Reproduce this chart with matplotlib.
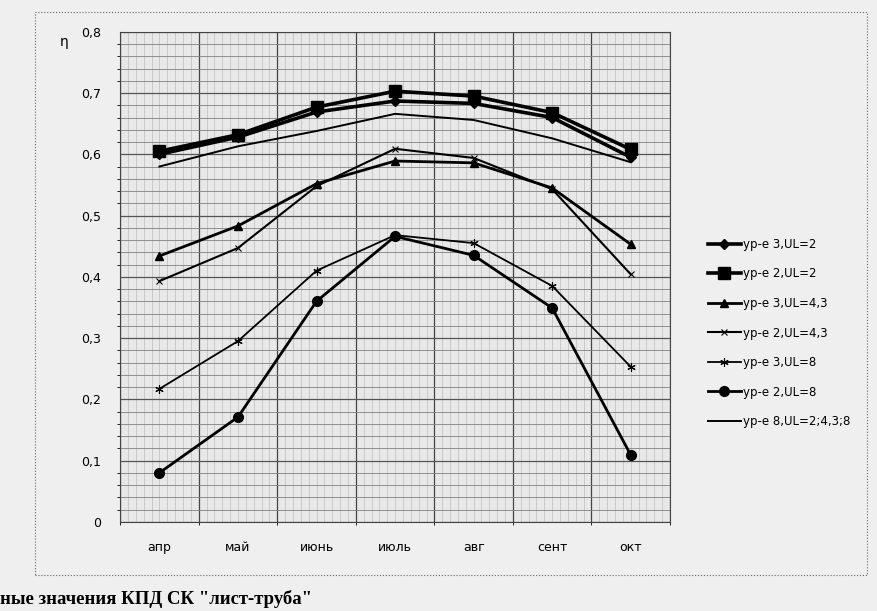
import matplotlib.pyplot as plt
import numpy as np
from matplotlib.patches import Rectangle
from matplotlib.ticker import FuncFormatter, MultipleLocator

plt.rcParams['font.family'] = ['DejaVu Sans']

months = ['апр', 'май', 'июнь', 'июль', 'авг', 'сент', 'окт']

eq3_ul2 = [0.600, 0.628, 0.669, 0.687, 0.683, 0.660, 0.595]
eq2_ul2 = [0.605, 0.632, 0.677, 0.703, 0.695, 0.668, 0.608]
eq3_ul43 = [0.434, 0.483, 0.552, 0.589, 0.586, 0.545, 0.453]
eq2_ul43 = [0.393, 0.447, 0.548, 0.609, 0.594, 0.543, 0.404]
eq3_ul8 = [0.217, 0.295, 0.410, 0.468, 0.455, 0.385, 0.253]
eq2_ul8 = [0.080, 0.171, 0.360, 0.466, 0.435, 0.349, 0.109]
eq8_all = [0.580, 0.613, 0.638, 0.666, 0.656, 0.626, 0.587]

labels = ['ур-е 3,UL=2', 'ур-е 2,UL=2', 'ур-е 3,UL=4,3', 'ур-е 2,UL=4,3',
          'ур-е 3,UL=8', 'ур-е 2,UL=8', 'ур-е 8,UL=2;4,3;8']

fig = plt.figure(figsize=(8.77, 6.11), dpi=100, facecolor='#efefef')
ax = fig.add_axes([0.137, 0.146, 0.627, 0.802], facecolor='#e8e8e8')

x = np.arange(len(months))

ax.plot(x, eq3_ul2, color='black', lw=2.6, marker='D', ms=5, label=labels[0], zorder=4)
ax.plot(x, eq2_ul2, color='black', lw=2.6, marker='s', ms=8, label=labels[1], zorder=4)
ax.plot(x, eq3_ul43, color='black', lw=2.0, marker='^', ms=6, label=labels[2], zorder=4)
ax.plot(x, eq2_ul43, color='black', lw=1.5, marker='x', ms=5, mew=0.8, label=labels[3], zorder=4)
ax.plot(x, eq3_ul8, color='black', lw=1.3, marker=(6, 2, 0), ms=6, mew=0.8, label=labels[4], zorder=4)
ax.plot(x, eq2_ul8, color='black', lw=2.0, marker='o', ms=7, label=labels[5], zorder=4)
ax.plot(x, eq8_all, color='black', lw=1.4, label=labels[6], zorder=4)

ax.set_xlim(-0.5, len(months) - 0.5)
ax.set_ylim(0, 0.8)
ax.set_xticks(x)
ax.set_xticklabels(months, fontsize=8.5)
ax.yaxis.set_major_locator(MultipleLocator(0.1))
ax.yaxis.set_major_formatter(FuncFormatter(lambda v, p: '0' if v == 0 else f'{v:.1f}'.replace('.', ',')))
ax.tick_params(axis='both', length=0, labelsize=9, pad=14)

# dense scanned-looking grid
ax.set_xticks(np.arange(-0.5, len(months), 1.0), minor=True)
ax.yaxis.set_minor_locator(MultipleLocator(0.02))
ax.grid(which='major', axis='y', color='#555555', lw=0.9)
ax.grid(which='minor', axis='y', color='#808080', lw=0.6)
ax.grid(which='minor', axis='x', color='#444444', lw=0.9)
for xv in np.arange(-0.5, len(months), 0.1):
    ax.axvline(xv, color='#bcbcbc', lw=0.5, zorder=0)
for s in ax.spines.values():
    s.set_color('#444444')
    s.set_linewidth(0.8)

fig.text(0.068, 0.925, 'η', fontsize=10)

fig.legend(loc='upper left', bbox_to_anchor=(0.795, 0.628), frameon=False,
           fontsize=8.5, labelspacing=1.4, handlelength=2.8, handletextpad=0.2)

fig.patches.append(Rectangle((35 / 877, 1 - 575 / 611), 832 / 877, 563 / 611,
                             transform=fig.transFigure, fill=False,
                             edgecolor='#666666', lw=0.8, ls=':'))

fig.text(0.0, 0.012, 'ные значения КПД СК "лист-труба"', fontsize=13.5,
         fontweight='bold', family=['Liberation Serif', 'DejaVu Serif'])

fig.savefig('out.png', dpi=100, facecolor=fig.get_facecolor())
